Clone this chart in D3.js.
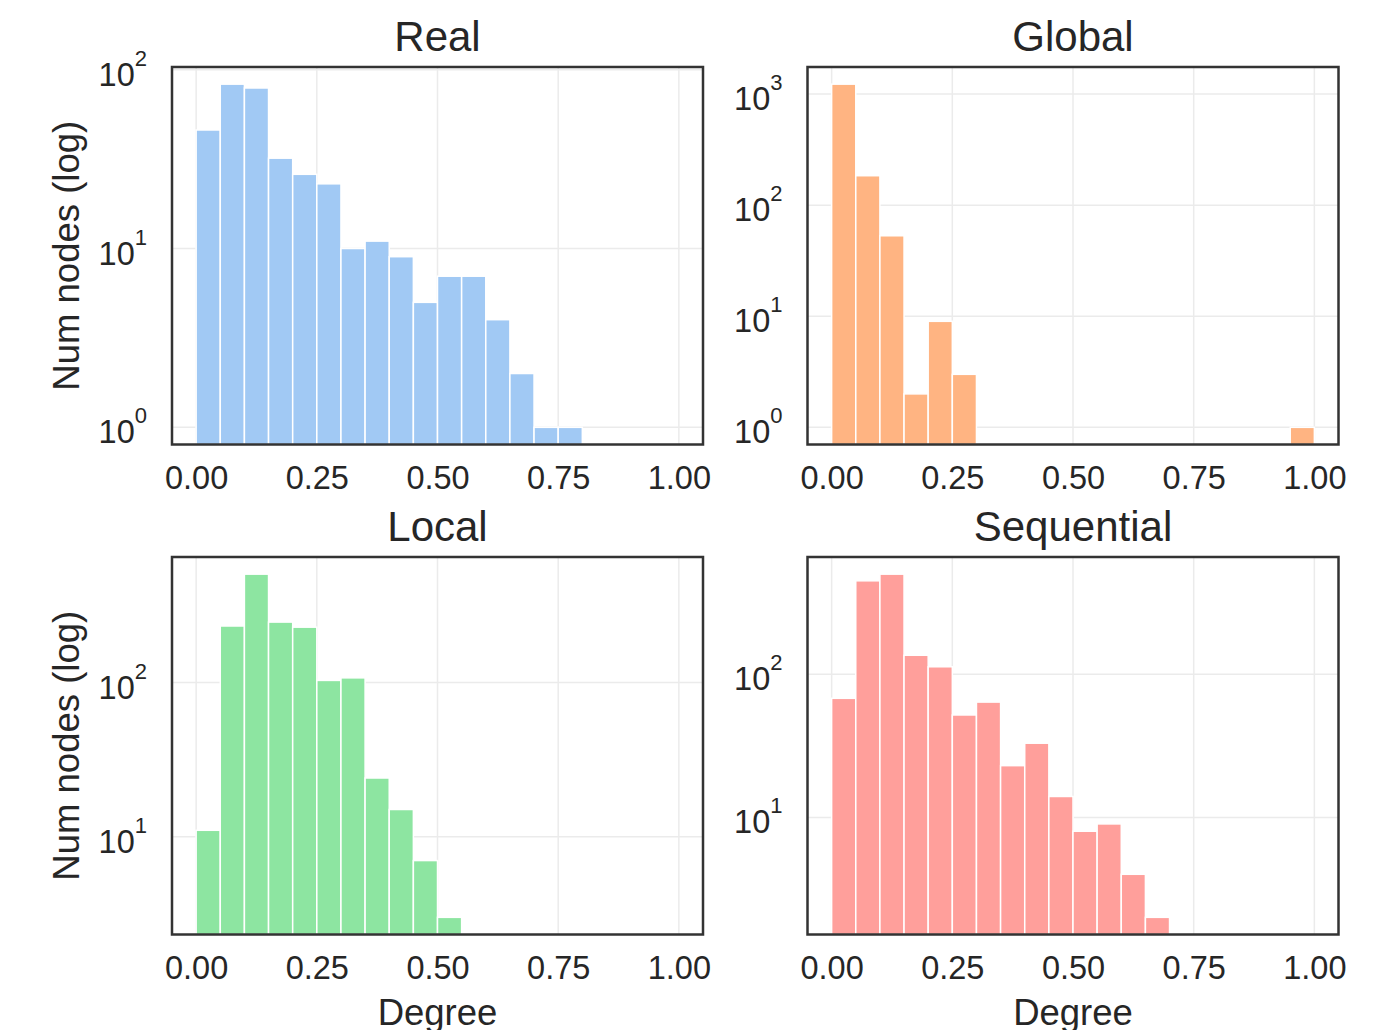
<!DOCTYPE html>
<html>
<head>
<meta charset="utf-8">
<script src="https://cdn.jsdelivr.net/npm/d3@7"></script>
<style>
  body { margin: 0; background: #fff; }
  text { font-family: "Liberation Sans", Arial, sans-serif; fill: #262626; }
</style>
</head>
<body>
<svg id="chart" width="1399" height="1030"></svg>
<script>
    // bins of width 0.05 on [0, 1]
    var binStarts = [0.00, 0.05, 0.10, 0.15, 0.20, 0.25, 0.30, 0.35, 0.40, 0.45,
                     0.50, 0.55, 0.60, 0.65, 0.70, 0.75, 0.80, 0.85, 0.90, 0.95];
    var binWidth = 0.05;

    // node counts per bin
    var realCounts       = [46, 83, 79, 32, 26, 23, 10, 11, 9, 5, 7, 7, 4, 2, 1, 1, 0, 0, 0, 0];
    var globalCounts     = [1227, 184, 53, 2, 9, 3, 0, 0, 0, 0, 0, 0, 0, 0, 0, 0, 0, 0, 0, 1];
    var localCounts      = [11, 232, 503, 246, 228, 103, 107, 24, 15, 7, 3, 0, 0, 0, 0, 0, 0, 0, 0, 0];
    var sequentialCounts = [68, 451, 502, 136, 113, 52, 64, 23, 33, 14, 8, 9, 4, 2, 0, 0, 0, 0, 0, 0];

    var titles = ["Real", "Global", "Local", "Sequential"];
    var colors = ["#a1c9f4", "#ffb482", "#8de5a1", "#ff9f9b"];
    var xTicks = [0, 0.25, 0.5, 0.75, 1.0];
    var xTickLabels = ["0.00", "0.25", "0.50", "0.75", "1.00"];

    var series = [realCounts, globalCounts, localCounts, sequentialCounts];

    // panel frames
    var cols = [172, 807.5], rows = [67, 557];
    var width = 531, height = 377.5;

    var svg = d3.select("#chart");

    series.forEach(function(counts, i) {
      var col = i % 2, row = Math.floor(i / 2);
      var g = svg.append("g")
        .attr("transform", "translate(" + cols[col] + "," + rows[row] + ")");

      var x = d3.scaleLinear()
        .domain([-0.05, 1.05])
        .range([0, width]);

      // log domain with 5% padding like matplotlib autoscale
      var pos = counts.filter(function(d) { return d > 0; });
      var lo = Math.log10(d3.min(pos)), hi = Math.log10(d3.max(pos));
      var m = 0.05 * (hi - lo);
      var y = d3.scaleLog()
        .domain([Math.pow(10, lo - m), Math.pow(10, hi + m)])
        .range([height, 0]);

      var decades = [1, 10, 100, 1000, 10000].filter(function(v) {
        return v >= y.domain()[0] && v <= y.domain()[1];
      });

      // grid
      g.selectAll(".vgrid")
        .data(xTicks)
        .enter().append("line")
          .attr("x1", function(d) { return x(d); })
          .attr("x2", function(d) { return x(d); })
          .attr("y1", 0).attr("y2", height)
          .attr("stroke", "#ebebeb").attr("stroke-width", 1.5);
      g.selectAll(".hgrid")
        .data(decades)
        .enter().append("line")
          .attr("x1", 0).attr("x2", width)
          .attr("y1", function(d) { return y(d); })
          .attr("y2", function(d) { return y(d); })
          .attr("stroke", "#ebebeb").attr("stroke-width", 1.5);

      // bars
      var bins = binStarts.map(function(s, k) { return {start: s, count: counts[k]}; })
        .filter(function(d) { return d.count > 0; });
      g.selectAll("rect.bar")
        .data(bins)
        .enter().append("rect")
          .attr("class", "bar")
          .attr("x", function(d) { return x(d.start); })
          .attr("width", function(d) { return x(d.start + binWidth) - x(d.start); })
          .attr("y", function(d) { return y(d.count); })
          .attr("height", function(d) { return height - y(d.count); })
          .attr("fill", colors[i])
          .attr("stroke", "#fff")
          .attr("stroke-width", 1.5);

      // x axis
      var xa = g.append("g")
        .attr("transform", "translate(0," + height + ")")
        .call(d3.axisBottom(x).tickValues(xTicks).tickSize(0).tickPadding(21)
          .tickFormat(function(d, k) { return xTickLabels[k]; }));
      xa.select(".domain").remove();
      xa.selectAll("text").attr("font-size", 32.5).style("fill", "#262626");

      // y axis with 10^n labels
      var ya = g.append("g")
        .call(d3.axisLeft(y).tickValues(decades).tickSize(0).tickPadding(25).tickFormat(""));
      ya.select(".domain").remove();
      ya.selectAll("text").each(function(d) {
        var t = d3.select(this)
          .attr("font-size", 32.5)
          .attr("dy", "0.48em")
          .style("fill", "#262626");
        t.append("tspan").text("10");
        t.append("tspan")
          .attr("dy", -20)
          .attr("font-size", 22)
          .text(Math.round(Math.log10(d)));
      });

      // frame
      g.append("rect")
        .attr("width", width).attr("height", height)
        .attr("fill", "none")
        .attr("stroke", "#333")
        .attr("stroke-width", 2.5);

      // title
      g.append("text")
        .attr("x", width / 2).attr("y", -16)
        .attr("text-anchor", "middle")
        .attr("font-size", 42)
        .text(titles[i]);

      if (col === 0) {
        g.append("text")
          .attr("transform", "translate(" + (79 - cols[0]) + "," + (height / 2) + ") rotate(-90)")
          .attr("text-anchor", "middle")
          .attr("font-size", 36.5)
          .text("Num nodes (log)");
      }
      if (row === 1) {
        g.append("text")
          .attr("x", width / 2).attr("y", height + 90)
          .attr("text-anchor", "middle")
          .attr("font-size", 36.5)
          .text("Degree");
      }
    });
</script>
</body>
</html>
